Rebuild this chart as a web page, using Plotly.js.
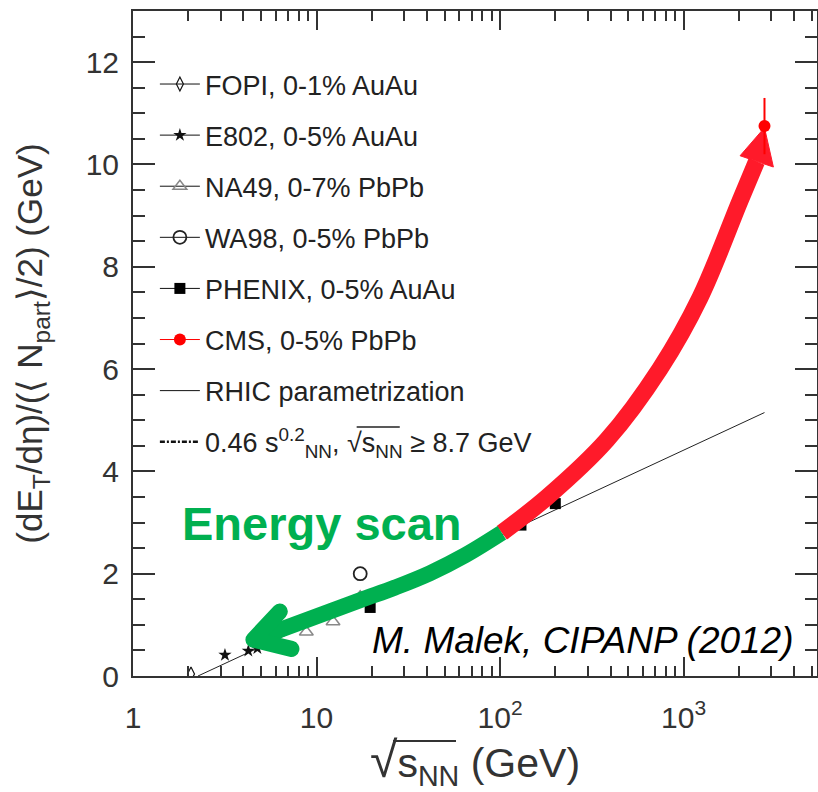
<!DOCTYPE html>
<html>
<head>
<meta charset="utf-8">
<script src="https://cdn.plot.ly/plotly-3.0.1.min.js"></script>
<style>
  html, body { margin: 0; padding: 0; background: #fff; }
  .tracegreenHead .js-line { stroke-linecap: round !important; stroke-linejoin: round !important; }
</style>
</head>
<body>
<div id="chart" style="width:818px;height:792px"></div>
<script>
// Transverse energy per participant pair vs collision energy (GeV)
const fopiX = [2.07],              fopiY = [0.04];
const e802X = [3.17, 4.25, 4.76],  e802Y = [0.41, 0.49, 0.54];
const na49X = [8.8, 12.3, 17.3],   na49Y = [0.86, 1.06, 1.55];
const wa98X = [17.3],              wa98Y = [2.0];
const phenixX = [19.6, 130, 200],  phenixY = [1.34, 2.95, 3.37];
const cmsX = [2760],               cmsY = [10.75], cmsErr = [0.55];
const rhicX = [2.26, 2760],        rhicY = [0, 5.15];

// Hand-drawn trend arrows (centre lines, in axis units)
const redArrowX = [102.2, 179.7, 381.5, 744.6, 1230, 2032, 2499];
const redArrowY = [2.80, 3.49, 4.61, 6.01, 7.40, 9.29, 10.06];
const redHeadX  = [2032, 2760, 3086, 2032];
const redHeadY  = [10.17, 10.72, 9.95, 10.17];
const greenArrowX = [102.2, 64.5, 41.5, 26.8, 17.26, 4.53];
const greenArrowY = [2.80, 2.36, 2.01, 1.73, 1.48, 0.71];
const greenHeadX  = [6.31, 4.53, 7.30];
const greenHeadY  = [1.26, 0.71, 0.53];

// Axis labels
const xTickVals = [1, 10, 100, 1000];
const xTickText = ['1', '10', '10<sup>2</sup>', '10<sup>3</sup>'];
const legendNames = [
  'FOPI, 0-1% AuAu',
  'E802, 0-5% AuAu',
  'NA49, 0-7% PbPb',
  'WA98, 0-5% PbPb',
  'PHENIX, 0-5% AuAu',
  'CMS, 0-5% PbPb',
  'RHIC parametrization',
  '0.46 s<sup>0.2</sup><sub>NN</sub>, √s<sub>NN</sub> ≥ 8.7 GeV'
];

const minorX = [];
for (let d = 1; d <= 1000; d *= 10) for (let k = 2; k <= 9; k++) minorX.push(k * d);

const INK = '#333';
const FONT = '"Liberation Sans", Arial, Helvetica, sans-serif';

const styles = [
  {symbol: 'diamond-tall-open', size: 10, color: '#111', line: {width: 1.2, color: '#111'}},
  {symbol: 'star', size: 10, color: '#111', line: {width: 0}},
  {symbol: 'triangle-up-open', size: 12, color: '#888', line: {width: 1.5, color: '#888'}},
  {symbol: 'circle-open', size: 13, color: '#222', line: {width: 1.8, color: '#222'}},
  {symbol: 'square', size: 11, color: '#000', line: {width: 0}},
  {symbol: 'circle', size: 12, color: '#ff0000', line: {width: 0}}
];

const traces = [];
traces.push({x: rhicX, y: rhicY, mode: 'lines', line: {color: '#222', width: 1}, showlegend: false, hoverinfo: 'skip'});
const sets = [[fopiX, fopiY], [e802X, e802Y], [na49X, na49Y], [wa98X, wa98Y], [phenixX, phenixY]];
sets.forEach((s, i) => traces.push({x: s[0], y: s[1], mode: 'markers', marker: styles[i], showlegend: false}));

traces.push({x: redArrowX, y: redArrowY, mode: 'lines', line: {color: '#ff1a2a', width: 17, shape: 'spline', smoothing: 1}, showlegend: false, hoverinfo: 'skip'});
traces.push({x: redHeadX, y: redHeadY, mode: 'lines', fill: 'toself', fillcolor: '#ff1a2a', line: {color: '#ff1a2a', width: 1}, showlegend: false, hoverinfo: 'skip'});
traces.push({x: greenArrowX, y: greenArrowY, mode: 'lines', line: {color: '#00b050', width: 16, shape: 'spline', smoothing: 1}, showlegend: false, hoverinfo: 'skip'});
traces.push({uid: 'greenHead', x: greenHeadX, y: greenHeadY, mode: 'lines', line: {color: '#00b050', width: 16}, showlegend: false, hoverinfo: 'skip'});

traces.push({x: cmsX, y: cmsY, mode: 'markers', marker: styles[5], showlegend: false,
  error_y: {type: 'data', array: cmsErr, color: '#ff0000', thickness: 2, width: 0}});

// Legend keys
for (let i = 0; i < 6; i++) {
  traces.push({x: [null], y: [null], name: legendNames[i], legendgroup: 'g' + i, mode: 'lines+markers',
    marker: styles[i], line: {color: i === 5 ? '#ff0000' : '#111', width: 1}});
}
traces.push({x: [null], y: [null], name: legendNames[6], legendgroup: 'g6', mode: 'lines', line: {color: '#111', width: 1}});
traces.push({x: [null], y: [null], name: legendNames[7], legendgroup: 'g7', mode: 'lines', line: {color: '#111', width: 2.5, dash: '5px,2px,2px,2px'}});

// The plot frame sits in the upper part of the paper so the axis-title
// decorations below it stay inside paper coordinates.
const layout = {
  width: 818, height: 792,
  margin: {l: 133, r: 1, t: 11, b: 0},
  paper_bgcolor: '#fff', plot_bgcolor: '#fff',
  font: {family: FONT, color: '#222'},
  showlegend: true,
  legend: {x: 0.032, y: 0.9373, xanchor: 'left', yanchor: 'top', bgcolor: 'rgba(0,0,0,0)',
    font: {size: 27, color: '#222', family: FONT}, tracegroupgap: 13, itemwidth: 40, traceorder: 'grouped'},
  xaxis: {
    type: 'log', range: [0, 3.727], showgrid: false, zeroline: false,
    showline: true, linecolor: INK, linewidth: 2, mirror: 'ticks',
    ticks: 'inside', ticklen: 19, tickwidth: 2, tickcolor: INK,
    tickmode: 'array', tickvals: xTickVals, ticktext: xTickText,
    tickfont: {size: 30, color: INK, family: FONT}, ticklabelstandoff: 14,
    minor: {tickmode: 'array', tickvals: minorX, ticks: 'inside', ticklen: 10, tickwidth: 2, tickcolor: INK},
    title: {text: '<span style="font-size:50px">√</span>s<sub>NN</sub> (GeV)',
      font: {size: 41, color: INK, family: FONT}, standoff: 12}
  },
  yaxis: {
    domain: [0.14853, 1],
    range: [0, 13], showgrid: false, zeroline: false,
    showline: true, linecolor: INK, linewidth: 2, mirror: 'ticks',
    ticks: 'inside', ticklen: 22, tickwidth: 2, tickcolor: INK,
    tick0: 0, dtick: 2, tickfont: {size: 30, color: INK, family: FONT}, ticklabelstandoff: 6,
    minor: {dtick: 0.5, ticks: 'inside', ticklen: 12, tickwidth: 2, tickcolor: INK},
    title: {text: '(dE<sub>T</sub>/dη)/(⟨ N<sub>part</sub>⟩/2) (GeV)', font: {size: 35, color: INK, family: FONT}, standoff: 32}
  },
  shapes: [
    // radical bar over s_NN in the last legend entry
    {type: 'line', layer: 'above', xref: 'paper', yref: 'paper', x0: 0.327, x1: 0.39, y0: 0.4673, y1: 0.4673, line: {color: '#222', width: 1.5}}
  ],
  annotations: [
    {xref: 'paper', yref: 'paper', x: 0.277, y: 0.3435, xanchor: 'center', yanchor: 'middle', showarrow: false,
      text: '<b>Energy scan</b>', font: {size: 47, color: '#00b050', family: FONT}},
    {xref: 'paper', yref: 'paper', x: 0.6586, y: 0.1945, xanchor: 'center', yanchor: 'middle', showarrow: false,
      text: '<i>M. Malek, CIPANP (2012)</i>', font: {size: 37, color: '#000', family: FONT}},
    // radical bar over s_NN in the axis title (a thin filled label box)
    {xref: 'paper', yref: 'paper', x: 0.4262, y: 0.0653, xanchor: 'center', yanchor: 'middle', showarrow: false,
      text: ' ', width: 63, height: 2, bgcolor: INK, borderpad: 0, borderwidth: 0, font: {size: 1, color: INK}}
  ]
};

Plotly.newPlot('chart', traces, layout, {staticPlot: true});
</script>
</body>
</html>
